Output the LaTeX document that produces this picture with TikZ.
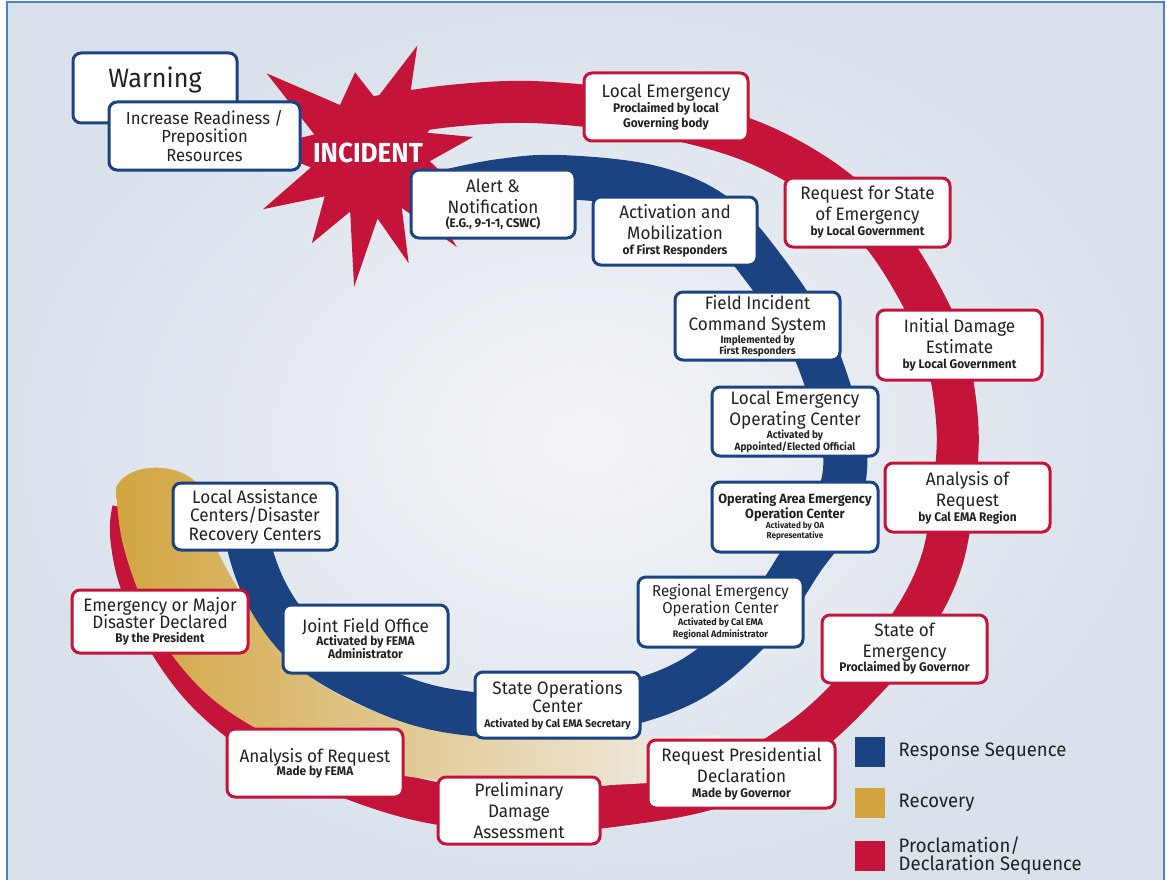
\documentclass[tikz,border=0pt]{standalone}
\usepackage{fontspec}
\setmainfont{Fira Sans}[FakeStretch=0.95]
\usetikzlibrary{positioning}
\definecolor{navy}{HTML}{1B4382}
\definecolor{crim}{HTML}{C5143A}
\definecolor{gold}{HTML}{D2A540}
\definecolor{txt}{HTML}{222222}
\definecolor{frame}{HTML}{4F7FC4}
\definecolor{bgout}{HTML}{D9E1EB}
\definecolor{bgin}{HTML}{F4F5F8}
\newcommand{\mainfnt}{\fontsize{18}{21}\selectfont}
\newcommand{\subfnt}{\fontsize{12.5}{14}\selectfont\bfseries}
\newcommand{\tinyfnt}{\fontsize{10.5}{11}\selectfont\bfseries}
\newcommand{\oafnt}{\fontsize{8.6}{9}\selectfont\bfseries}
\newcommand{\regfnt}{\fontsize{9.5}{11}\selectfont\bfseries}
\newcommand{\legfnt}{\fontsize{19.5}{17}\selectfont}

\begin{document}
\begin{tikzpicture}[x=1pt,y=-1pt,
    box/.style={rounded corners=8pt, fill=white, line width=3pt, align=center, inner sep=2pt,
      minimum width=164pt, minimum height=68pt, text=txt, font=\mainfnt},
    bluebox/.style={box, draw=navy},
    redbox/.style={box, draw=crim},
    band/.style={line width=#1, line cap=butt, line join=round},
    sq/.style={minimum size=30pt, inner sep=0pt}]
    \useasboundingbox (0,0) rectangle (1167,880);
    \fill[white] (0,0) rectangle (1167,880);
    \shade[inner color=bgin, outer color=bgout] (7,2) rectangle (1164,880);
    \draw[frame, line width=2pt] (7,890) -- (7,2) -- (1164,2) -- (1164,890);

    % proclamation ring
    \draw[crim, band=42pt] plot[smooth, tension=0.6] coordinates {(370,118) (450,106) (530,102) (620,110)
      (700,125) (767,148) (830,185) (880,232) (918,290) (945,350) (957,420) (955,480) (942,560)
      (910,625) (860,685) (800,740) (720,785) (620,805) (520,812) (420,800) (330,770) (260,735)
      (205,690) (165,635) (140,580) (131,535) (133,510)};
    % recovery
    \shade[left color=gold, middle color=gold!65!bgin, right color=gold!6!bgin]
      plot[smooth, tension=0.6] coordinates {(116,488) (122,540) (142,600) (172,655) (220,705)
        (290,745) (370,770) (460,782) (560,786) (660,782) (720,772)}
      -- plot[smooth, tension=0.6] coordinates {(720,735) (640,737) (560,737) (480,733) (400,720)
        (330,690) (280,650) (245,600) (215,545) (203,495)}
      .. controls (195,462) and (128,458) .. cycle;
    % response ring
    \draw[navy, band=44pt] plot[smooth, tension=0.6] coordinates {(445,192) (500,181) (560,177)
      (650,187) (715,215) (765,270) (810,340) (838,420) (845,470) (830,520) (803,558) (760,620)
      (690,680) (600,710) (510,716) (430,707) (360,680) (305,645) (270,600) (250,550) (245,505)};

    \begin{scope}[shift={(370,157)}]
      \fill[crim] (219:133) -- (240:60) -- (260:86) -- (276:58) -- (293:121) -- (309:60)
        -- (325:112) -- (337:62) -- (349:105) -- (364:60) -- (380:95) -- (393:62) -- (406:125)
        -- (418:60) -- (430:113) -- (443:62) -- (457:131) -- (470:58) -- (484:104) -- (499:60)
        -- (514:119) -- (530:60) -- (545:110) -- (562:60) -- cycle;
    \end{scope}
    \node[text=white, font=\fontsize{27.5}{28}\selectfont\bfseries] (inc) at (368,153) {INCIDENT};

    \node[bluebox, minimum height=70pt, font=\fontsize{26.5}{28}\selectfont, text depth=21pt] (warn) at (155,88) {Warning};
    \node[bluebox, minimum width=191pt, font=\fontsize{17.5}{18.5}\selectfont] (incr) at (204.5,136) {Increase Readiness /\\Preposition\\Resources};
    \node[bluebox] (alert) at (493,204) {Alert \&\\Notification\\[-7pt]\subfnt (E.G., 9-1-1, CSWC)};
    \node[bluebox] (activ) at (675,231) {Activation and\\Mobilization\\[-6pt]\subfnt of First Responders};
    \node[bluebox, minimum width=165pt] (field) at (757.5,326) {Field Incident\\Command System\\[-8pt]\tinyfnt Implemented by\\[-9.5pt]\tinyfnt First Responders};
    \node[bluebox, minimum width=166pt, minimum height=69pt] (leoc) at (795,421.5) {Local Emergency\\Operating Center\\[-8pt]\tinyfnt Activated by\\[-9pt]\tinyfnt Appointed/Elected Official};
    \node[bluebox, minimum width=166pt, minimum height=70pt, font=\fontsize{13.4}{15}\selectfont\bfseries] (oaeoc) at (795,517) {Operating Area Emergency\\Operation Center\\[-5pt]\oafnt Activated by OA\\[-5pt]\oafnt Representative};
    \node[bluebox, minimum width=165pt, minimum height=70pt, font=\fontsize{15.8}{17}\selectfont] (reoc) at (720.5,612) {Regional Emergency\\Operation Center\\[-5pt]\regfnt Activated by Cal EMA\\[-5pt]\regfnt Regional Administrator};
    \node[bluebox, minimum width=165pt, minimum height=66pt] (soc) at (557.5,705) {State Operations\\[-3pt]Center\\[-6pt]\fontsize{11}{12}\selectfont\bfseries Activated by Cal EMA Secretary};
    \node[bluebox, minimum width=165pt] (jfo) at (365.5,639) {Joint Field Office\\[-8pt]\subfnt Activated by FEMA\\[-8pt]\subfnt Administrator};
    \node[bluebox, minimum height=67pt] (lac) at (255,516.5) {Local Assistance\\[-2.5pt]Centers/Disaster\\[-2.5pt]Recovery Centers};

    \node[redbox] (lem) at (666,107) {Local Emergency\\[-6pt]\subfnt Proclaimed by local\\[-6pt]\subfnt Governing body};
    \node[redbox, minimum width=165pt, minimum height=69pt] (rfs) at (867.5,212.5) {Request for State\\of Emergency\\[-6pt]\subfnt by Local Government};
    \node[redbox, minimum width=165pt, minimum height=70pt] (ide) at (959.5,345) {Initial Damage\\Estimate\\[-6pt]\subfnt by Local Government};
    \node[redbox, minimum width=165pt, minimum height=69pt] (aor) at (967.5,497.5) {Analysis of\\Request\\[-6pt]\subfnt by Cal EMA Region};
    \node[redbox, minimum width=165pt] (soe) at (904.5,649) {State of\\Emergency\\[-7pt]\subfnt Proclaimed by Governor};
    \node[redbox, minimum width=187pt] (rpd) at (741.5,774) {Request Presidential\\Declaration\\[-6pt]\subfnt Made by Governor};
    \node[redbox, minimum width=162pt, minimum height=67pt] (pda) at (519,810.5) {Preliminary\\Damage\\Assessment};
    \node[redbox, minimum width=176pt] (afema) at (315,763) {Analysis of Request\\[-8pt]\subfnt Made by FEMA};
    \node[redbox, minimum width=176pt, minimum height=63pt] (emd) at (160,621.5) {Emergency or Major\\[-4pt]Disaster Declared\\[-7pt]\subfnt By the President};

    \node[sq, fill=navy] (lgresp) at (870,752) {};
    \node[right=10pt of lgresp, font=\legfnt, text=txt] (lgresptxt) {Response Sequence};
    \node[sq, fill=gold] (lgrec) at (870,803) {};
    \node[right=10pt of lgrec, font=\legfnt, text=txt] (lgrectxt) {Recovery};
    \node[sq, fill=crim] (lgdecl) at (870,856) {};
    \node[right=10pt of lgdecl, font=\legfnt, text=txt, align=left] (lgdecltxt) {Proclamation/\\Declaration Sequence};
\end{tikzpicture}
\end{document}
